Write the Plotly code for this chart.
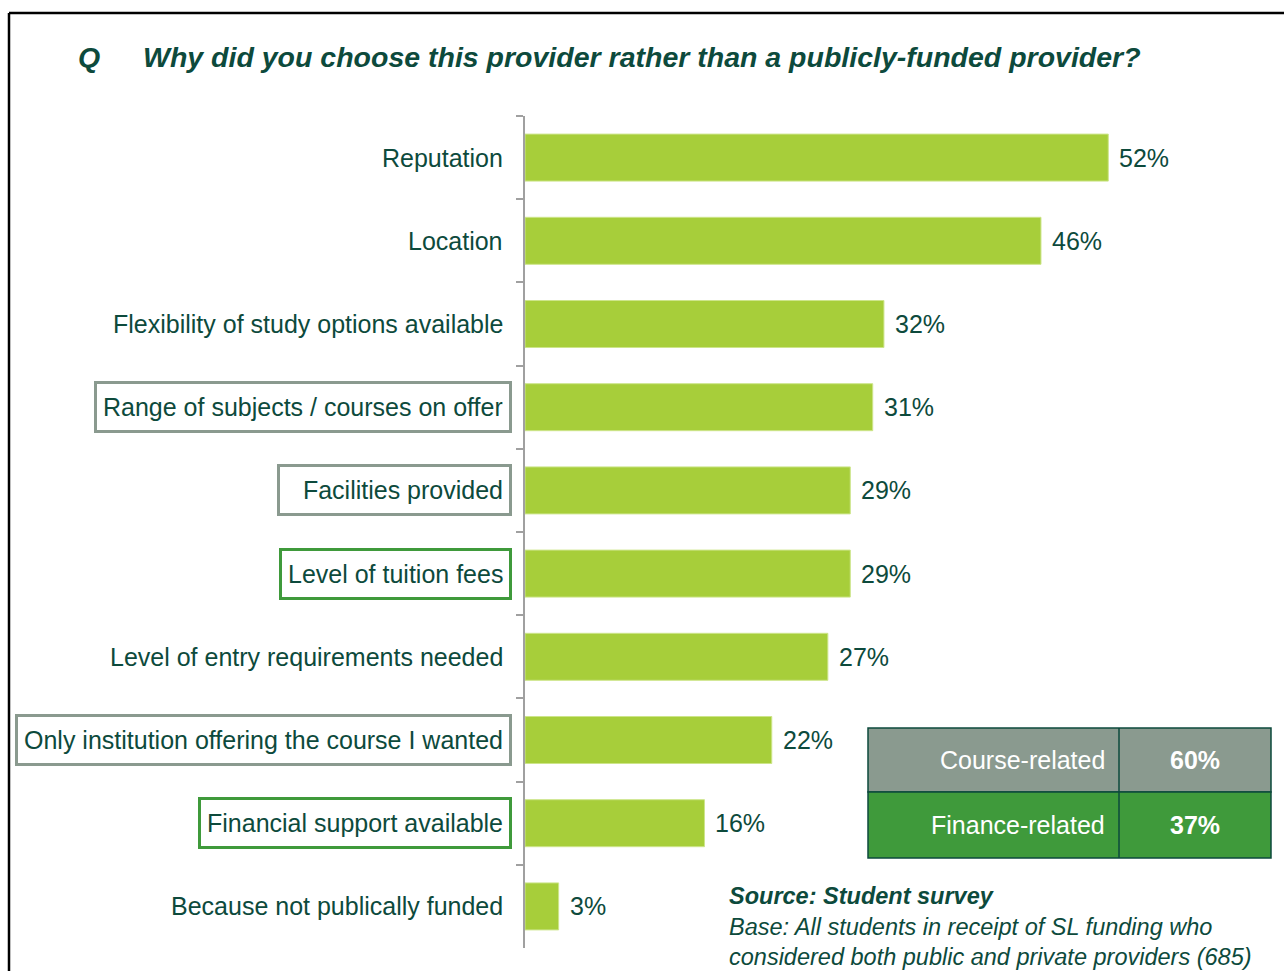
import plotly.graph_objects as go

# Survey responses: why students chose this provider
categories = [
    "Reputation",
    "Location",
    "Flexibility of study options available",
    "Range of subjects / courses on offer",
    "Facilities provided",
    "Level of tuition fees",
    "Level of entry requirements needed",
    "Only institution offering the course I wanted",
    "Financial support available",
    "Because not publically funded",
]
percentages = [52, 46, 32, 31, 29, 29, 27, 22, 16, 3]
# grouping of each reason: "course", "finance" or "" (ungrouped)
groups = ["", "", "", "course", "course", "finance", "", "course", "finance", ""]

summary_labels = ["Course-related", "Finance-related"]
summary_values = [60, 37]

TEXT = "#0D4A3C"
BAR = "#A7CE3A"
GREY = "#8A9A8F"
GREEN = "#3F9A3B"
FONT = "Arial, Liberation Sans, sans-serif"

W, H = 1284, 971
L, T = 525, 116
PW, PH = 673, 832

# fixed inner widths for a few framed labels (others size to their text)
label_box_width = {"Facilities provided": 217}


def px(x):
    return (x - L) / PW


def py(y):
    return (T + PH - y) / PH


fig = go.Figure(
    go.Bar(
        x=percentages,
        y=categories,
        orientation="h",
        marker=dict(color=BAR, line=dict(color="#CDE58A", width=1)),
        width=0.565,
        hoverinfo="x+y",
    )
)

annotations = []
# category labels (some framed by group colour)
for cat, g in zip(categories, groups):
    border = {"course": GREY, "finance": GREEN}.get(g, "rgba(0,0,0,0)")
    ann = dict(
        xref="paper", yref="y", x=0, y=cat, xanchor="right", yanchor="middle",
        xshift=-13, text=cat, showarrow=False, align="right",
        font=dict(family=FONT, size=25, color=TEXT),
        bordercolor=border, borderwidth=3, borderpad=6, height=34,
    )
    if cat in label_box_width:
        ann["width"] = label_box_width[cat]
    annotations.append(ann)
# value labels
for cat, v in zip(categories, percentages):
    annotations.append(dict(
        xref="x", yref="y", x=v, y=cat, xanchor="left", yanchor="middle",
        xshift=9, text=f"{v}%", showarrow=False,
        font=dict(family=FONT, size=25, color=TEXT),
    ))

# question title
annotations.append(dict(
    xref="paper", yref="paper", x=px(76), y=py(57), xanchor="left", yanchor="middle",
    text="<b><i>Q</i></b>", showarrow=False, font=dict(family=FONT, size=28.5, color=TEXT),
))
annotations.append(dict(
    xref="paper", yref="paper", x=px(141), y=py(57), xanchor="left", yanchor="middle",
    text="<b><i>Why did you choose this provider rather than a publicly-funded provider?</i></b>",
    showarrow=False, font=dict(family=FONT, size=28.5, color=TEXT),
))

# source note
annotations.append(dict(
    xref="paper", yref="paper", x=px(727), y=py(881), xanchor="left", yanchor="top",
    align="left", showarrow=False,
    text="<b><i>Source: Student survey</i></b><br><i>Base: All students in receipt of SL funding who</i>"
         "<br><i>considered both public and private providers (685)</i>",
    font=dict(family=FONT, size=23.5, color=TEXT),
))

shapes = []
# outer frame
shapes.append(dict(type="line", xref="paper", yref="paper", x0=px(9), x1=px(1290),
                   y0=py(13), y1=py(13), line=dict(color="black", width=2.5)))
shapes.append(dict(type="line", xref="paper", yref="paper", x0=px(9), x1=px(9),
                   y0=py(13), y1=py(980), line=dict(color="black", width=2.5)))

# summary table
tx0, tx1, tmid = 868, 1271, 1119
row_tops = [728, 792]
row_h = [64, 66]
fills = [GREY, GREEN]
for lab, val, top, h, fc in zip(summary_labels, summary_values, row_tops, row_h, fills):
    shapes.append(dict(type="rect", xref="paper", yref="paper", x0=px(tx0), x1=px(tx1),
                       y0=py(top + h), y1=py(top), fillcolor=fc,
                       line=dict(color="#0D4A3C", width=1.5)))
    annotations.append(dict(
        xref="paper", yref="paper", x=px(1107), y=py(top + h / 2), xanchor="right",
        yanchor="middle", text=lab, showarrow=False,
        font=dict(family=FONT, size=25, color="white"),
    ))
    annotations.append(dict(
        xref="paper", yref="paper", x=px(1195), y=py(top + h / 2), xanchor="center",
        yanchor="middle", text=f"<b>{val}%</b>", showarrow=False,
        font=dict(family=FONT, size=25, color="white"),
    ))
shapes.append(dict(type="line", xref="paper", yref="paper", x0=px(tmid), x1=px(tmid),
                   y0=py(858), y1=py(728), line=dict(color="#0D4A3C", width=1.5)))

fig.update_layout(
    width=W, height=H,
    margin=dict(l=L, r=W - L - PW, t=T, b=H - T - PH, pad=0),
    paper_bgcolor="white", plot_bgcolor="white",
    showlegend=False,
    xaxis=dict(range=[0, 60], visible=False, fixedrange=True),
    yaxis=dict(
        type="category", autorange="reversed", showticklabels=False,
        showline=True, linecolor="#A0A0A0", linewidth=1.5,
        ticks="outside", ticklen=7, tickcolor="#A0A0A0", tickwidth=1.5,
        tickson="boundaries", showgrid=False, zeroline=False,
    ),
    annotations=annotations,
    shapes=shapes,
    font=dict(family=FONT, color=TEXT),
)

fig.write_html("out.html")
